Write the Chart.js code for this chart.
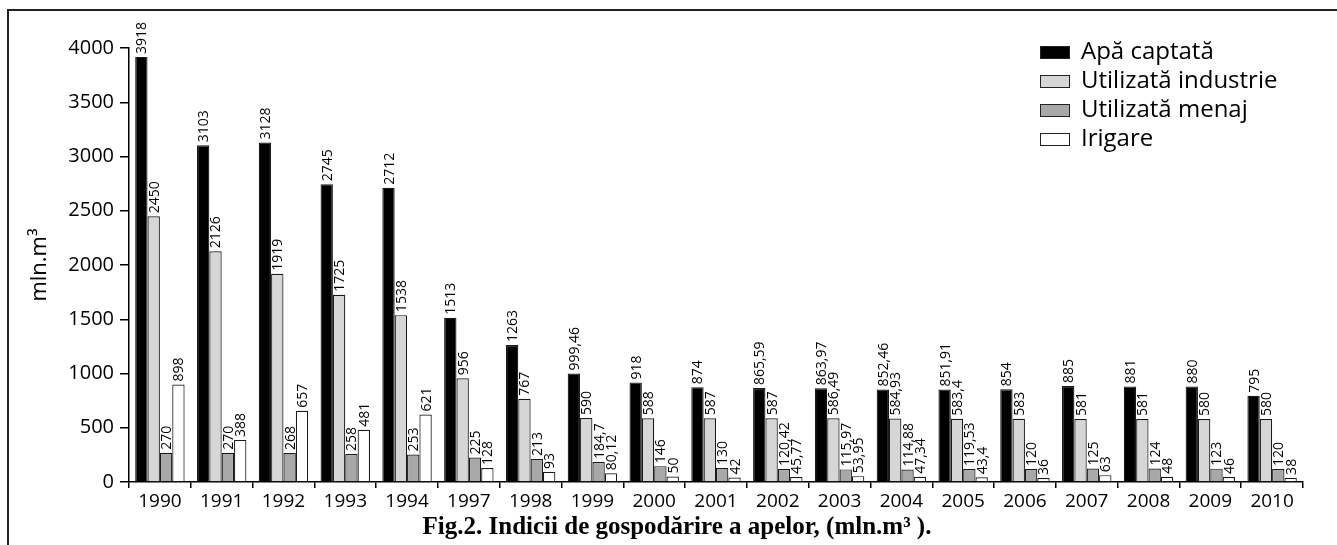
<!DOCTYPE html>
<html>
<head>
<meta charset="utf-8">
<title>Indicii de gospodărire a apelor</title>
<script src="https://cdn.jsdelivr.net/npm/chart.js@4/dist/chart.umd.min.js"></script>
<style>
  html, body { margin: 0; padding: 0; background: #fff; }
  #wrap { width: 1337px; height: 545px; }
</style>
</head>
<body>
<div id="wrap"><canvas id="myChart" width="1337" height="545"></canvas></div>
<script>
const years = ['1990', '1991', '1992', '1993', '1994', '1997', '1998', '1999', '2000', '2001',
  '2002', '2003', '2004', '2005', '2006', '2007', '2008', '2009', '2010'];

const apaCaptata = [3918, 3103, 3128, 2745, 2712, 1513, 1263, 999.46, 918, 874,
  865.59, 863.97, 852.46, 851.91, 854, 885, 881, 880, 795];
const industrie = [2450, 2126, 1919, 1725, 1538, 956, 767, 590, 588, 587,
  587, 586.49, 584.93, 583.4, 583, 581, 581, 580, 580];
const menaj = [270, 270, 268, 258, 253, 225, 213, 184.7, 146, 130,
  120.42, 115.97, 114.88, 119.53, 120, 125, 124, 123, 120];
const irigare = [898, 388, 657, 481, 621, 128, 93, 80.12, 50, 42,
  45.77, 53.95, 47.34, 43.4, 36, 63, 48, 46, 38];

const yTicks = [0, 500, 1000, 1500, 2000, 2500, 3000, 3500, 4000];

const FONT = '"Open Sans", "DejaVu Sans", sans-serif';

// values are written with a decimal comma in the original
const fmt = (v) => String(v).replace('.', ',');

// rotated value labels above every bar
const barLabels = {
  id: 'barLabels',
  afterDatasetsDraw(chart) {
    const ctx = chart.ctx;
    ctx.save();
    ctx.font = '14px ' + FONT;
    ctx.fillStyle = '#000';
    ctx.textAlign = 'left';
    ctx.textBaseline = 'middle';
    chart.data.datasets.forEach((ds, i) => {
      chart.getDatasetMeta(i).data.forEach((bar, j) => {
        ctx.save();
        ctx.translate(bar.x + 1, bar.y - 3);
        ctx.rotate(-Math.PI / 2);
        ctx.fillText(fmt(ds.data[j]), 0, 0);
        ctx.restore();
      });
    });
    ctx.restore();
  }
};

// frame, legend and caption
const decorations = {
  id: 'decorations',
  beforeDraw(chart) {
    const ctx = chart.ctx;
    ctx.save();
    ctx.strokeStyle = '#222';
    ctx.lineWidth = 2;
    ctx.beginPath();
    ctx.moveTo(8, 545);
    ctx.lineTo(8, 10);
    ctx.lineTo(1337, 10);
    ctx.stroke();
    ctx.restore();
  },
  afterDraw(chart) {
    const ctx = chart.ctx;
    ctx.save();
    ctx.font = '24px ' + FONT;
    ctx.textBaseline = 'middle';
    chart.data.datasets.forEach((ds, i) => {
      const y = 52 + i * 29;
      ctx.fillStyle = ds.backgroundColor;
      ctx.fillRect(1040, y - 6, 30, 13);
      ctx.strokeStyle = '#222';
      ctx.lineWidth = 1;
      ctx.strokeRect(1040.5, y - 5.5, 29, 12);
      ctx.fillStyle = '#000';
      ctx.fillText(ds.label, 1081, y);
    });
    ctx.font = 'bold 25px "Liberation Serif", "DejaVu Serif", serif';
    ctx.textAlign = 'center';
    ctx.fillText('Fig.2. Indicii de gospodărire a apelor, (mln.m³ ).', 677, 528);
    ctx.restore();
  }
};

const ctx = document.getElementById('myChart').getContext('2d');
const myChart = new Chart(ctx, {
  type: 'bar',
  data: {
    labels: years,
    datasets: [
      { label: 'Apă captată', data: apaCaptata, backgroundColor: '#000000' },
      { label: 'Utilizată industrie', data: industrie, backgroundColor: '#d6d6d6' },
      { label: 'Utilizată menaj', data: menaj, backgroundColor: '#a8a8a8' },
      { label: 'Irigare', data: irigare, backgroundColor: '#ffffff' }
    ].map(d => Object.assign(d, {
      borderColor: '#1a1a1a',
      borderWidth: 1.2,
      categoryPercentage: 0.8,
      barPercentage: 1.0
    }))
  },
  options: {
    responsive: false,
    devicePixelRatio: 1,
    animation: false,
    layout: { padding: { top: 48, right: 34, bottom: 33, left: 0 } },
    plugins: {
      legend: { display: false },
      tooltip: { enabled: false }
    },
    scales: {
      x: {
        afterFit: (scale) => { scale.height = 30; },
        grid: {
          drawOnChartArea: false,
          tickLength: 6,
          color: '#000',
          lineWidth: 1.5
        },
        border: { color: '#000', width: 1.5 },
        ticks: {
          color: '#000',
          padding: 2,
          maxRotation: 0,
          autoSkip: false,
          font: { family: FONT, size: 19 }
        }
      },
      y: {
        min: 0,
        max: 4000,
        afterFit: (scale) => { scale.width = 129; },
        afterBuildTicks: (scale) => { scale.ticks = yTicks.map(v => ({ value: v })); },
        grid: {
          drawOnChartArea: false,
          tickLength: 9,
          color: '#000',
          lineWidth: 1.5
        },
        border: { color: '#000', width: 1.5 },
        ticks: {
          color: '#000',
          padding: 6,
          font: { family: FONT, size: 20 },
          callback: (v) => String(v)
        },
        title: {
          display: true,
          text: 'mln.m³',
          color: '#000',
          padding: { top: 27, bottom: 0 },
          font: { family: FONT, size: 22 }
        }
      }
    }
  },
  plugins: [barLabels, decorations]
});
</script>
</body>
</html>
